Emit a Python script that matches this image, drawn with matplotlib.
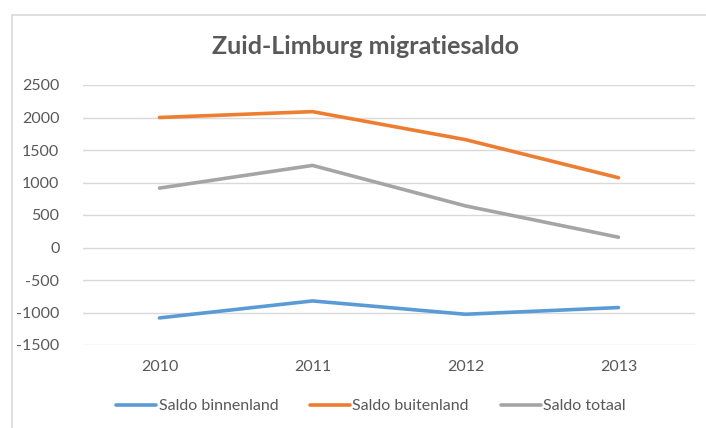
import matplotlib.pyplot as plt
from matplotlib.patches import Rectangle

years = ["2010", "2011", "2012", "2013"]
binnenland = [-1083, -822, -1027, -924]
buitenland = [2000, 2090, 1659, 1073]
totaal = [914, 1263, 640, 158]
yticks = [-1500, -1000, -500, 0, 500, 1000, 1500, 2000, 2500]

plt.rcParams['font.family'] = ['Lato', 'DejaVu Sans']
txt = '#595959'

fig = plt.figure(figsize=(7.06, 4.28), dpi=100)
# light chart border (cropped at right/bottom)
fig.patches.append(Rectangle((12 / 706, -0.1), 1.2, 1 - 15 / 428 + 0.1,
                             transform=fig.transFigure, fill=False,
                             edgecolor='#d9d9d9', linewidth=1.2))

ax = fig.add_axes([83 / 706, 1 - 345 / 428, (695 - 83) / 706, (345 - 85) / 428])
x = range(len(years))
ax.plot(x, binnenland, color='#5B9BD5', lw=2.6, label='Saldo binnenland', solid_capstyle='round')
ax.plot(x, buitenland, color='#ED7D31', lw=2.6, label='Saldo buitenland', solid_capstyle='round')
ax.plot(x, totaal, color='#A5A5A5', lw=2.6, label='Saldo totaal', solid_capstyle='round')

ax.set_xlim(-0.5, len(years) - 0.5)
ax.set_ylim(-1500, 2500)
ax.set_yticks(yticks)
ax.set_yticklabels([str(v) for v in yticks])
ax.set_xticks(list(x))
ax.set_xticklabels(years)
ax.yaxis.grid(True, color='#d9d9d9', lw=1)
ax.set_axisbelow(True)
for s in ax.spines.values():
    s.set_visible(False)
ax.tick_params(length=0, labelsize=11.5, labelcolor=txt)
ax.tick_params(axis='y', pad=17)
ax.tick_params(axis='x', pad=11)
for lbl in ax.get_yticklabels():
    lbl.set_horizontalalignment('right')

fig.text(365 / 706, 1 - 47 / 428, 'Zuid-Limburg migratiesaldo', ha='center', va='center',
         fontsize=18, fontweight='bold', color=txt)

ax.legend(loc='center', bbox_to_anchor=(371 / 706, 1 - 406 / 428), bbox_transform=fig.transFigure,
          ncol=3, frameon=False, fontsize=11.5, labelcolor=txt, handlelength=2.5,
          handletextpad=0.15, columnspacing=2.0)

fig.savefig('out.png', dpi=100)
